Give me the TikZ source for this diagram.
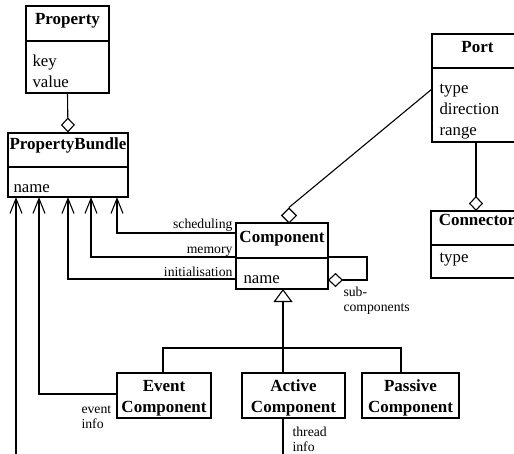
\documentclass[tikz,border=0pt]{standalone}
\usepackage{fontspec}
\setmainfont{Liberation Serif}
\usetikzlibrary{arrows.meta,shapes.geometric}
\begin{document}
\begin{tikzpicture}[x=1pt,y=-1pt, line width=1.1pt,
  box/.style={draw, rectangle, inner sep=0pt, line width=1.1pt},
  hdr/.style={font=\fontsize{17}{19}\selectfont\bfseries, inner sep=0pt, anchor=base},
  attr/.style={font=\fontsize{16.8}{20}\selectfont, inner sep=0pt, anchor=base west},
  lbl/.style={font=\fontsize{13.7}{15}\selectfont, inner sep=0pt},
  agg/.style={-{Diamond[open,length=15pt,width=14pt]}},
  dep/.style={-{Straight Barb[length=15pt,width=12pt]}},
  gen/.style={-{Triangle[open,length=13pt,width=19pt]}},
  dia/.style={draw, diamond, fill=white, inner sep=0pt, minimum width=15pt, minimum height=15pt, line width=1.1pt}]
\useasboundingbox (0,0) rectangle (514,453);
\clip (0,0) rectangle (514,453);

% boxes
\node[box, minimum width=83pt, minimum height=87pt] (prop) at (67.5,49.5) {};
\node[box, minimum width=120pt, minimum height=64pt] (pb) at (68,165) {};
\node[box, minimum width=92pt, minimum height=66pt] (comp) at (282,256) {};
\node[box, minimum width=91pt, minimum height=108pt] (port) at (477.5,88) {};
\node[box, minimum width=92pt, minimum height=67pt] (conn) at (477,244.5) {};
\node[box, minimum width=94pt, minimum height=45pt] (ev) at (164,395.5) {};
\node[box, minimum width=103pt, minimum height=45pt] (act) at (293.5,395.5) {};
\node[box, minimum width=97pt, minimum height=45pt] (pas) at (410.5,395.5) {};

% dividers
\draw (26,41) -- (109,41);
\draw (8,167) -- (128,167);
\draw (236,258) -- (328,258);
\draw (432,68) -- (523,68);
\draw (431,245) -- (523,245);

% texts
\node[hdr] (tprop) at (67.5,24) {Property};
\node[attr] (tkey) at (32,66) {key};
\node[attr] (tval) at (32,87) {value};
\node[hdr] (tpb) at (68,149) {PropertyBundle};
\node[attr] (tpbn) at (13,192) {name};
\node[hdr] (tcomp) at (282,242) {Component};
\node[attr] (tcn) at (243,283) {name};
\node[hdr] (tport) at (477.5,52) {Port};
\node[attr] (tpt) at (439,93) {type};
\node[attr] (tpd) at (439,114) {direction};
\node[attr] (tpr) at (439,135) {range};
\node[hdr] (tconn) at (477,225) {Connector};
\node[attr] (tct) at (439,262) {type};
\node[hdr] (tev1) at (164,391) {Event};
\node[hdr] (tev2) at (164,412) {Component};
\node[hdr] (tac1) at (293.5,391) {Active};
\node[hdr] (tac2) at (293.5,412) {Component};
\node[hdr] (tpa1) at (410.5,391) {Passive};
\node[hdr] (tpa2) at (410.5,412) {Component};

% aggregation
\draw[agg] (prop.south) -- (pb.north);
\coordinate (portL) at (432,89);
\node[dia] (cdia) at (289,215.5) {};
\draw (portL) -- (cdia.north);
\coordinate (portB) at (476,142);
\coordinate (connT) at (476,211);
\draw[agg] (portB) -- (connT);
\coordinate (cs1) at (328,257);
\coordinate (cs2) at (328,280);
\draw[agg] (cs1) -- (367,257) -- (367,280) -- (cs2);
\node[lbl, anchor=base west] (lsub1) at (343,296) {sub-};
\node[lbl, anchor=base west] (lsub2) at (343,311) {components};

% generalisation
\coordinate (bar) at (283,348);
\coordinate (compB) at (283,289);
\draw[gen] (bar) -- (compB);
\draw (163,373) -- (163,348) -- (401,348) -- (401,373);
\draw (bar) -- (283,373);

% dependencies into PropertyBundle
\coordinate (d1) at (16,197);
\coordinate (d2) at (39,197);
\coordinate (d3) at (68,197);
\coordinate (d4) at (91,197);
\coordinate (d5) at (117,197);
\coordinate (cw1) at (236,233);
\coordinate (cw2) at (236,257);
\coordinate (cw3) at (236,279);
\draw[dep] (cw1) -- (117,233) -- (d5);
\draw[dep] (cw2) -- (91,257) -- (d4);
\draw[dep] (cw3) -- (68,279) -- (d3);
\coordinate (evW) at (117,394);
\draw[dep] (evW) -- (39,394) -- (d2);
\coordinate (actB) at (283,418);
\draw[dep] (actB) -- (283,462) -- (16,462) -- (d1);

\node[lbl, anchor=base east] (lsch) at (233,228) {scheduling};
\node[lbl, anchor=base east] (lmem) at (233,253) {memory};
\node[lbl, anchor=base east] (lini) at (233,276) {initialisation};
\node[lbl, anchor=base west] (lev1) at (81,413) {event};
\node[lbl, anchor=base west] (lev2) at (81,428) {info};
\node[lbl, anchor=base west] (lth1) at (292,436) {thread};
\node[lbl, anchor=base west] (lth2) at (292,451) {info};
\end{tikzpicture}
\end{document}
